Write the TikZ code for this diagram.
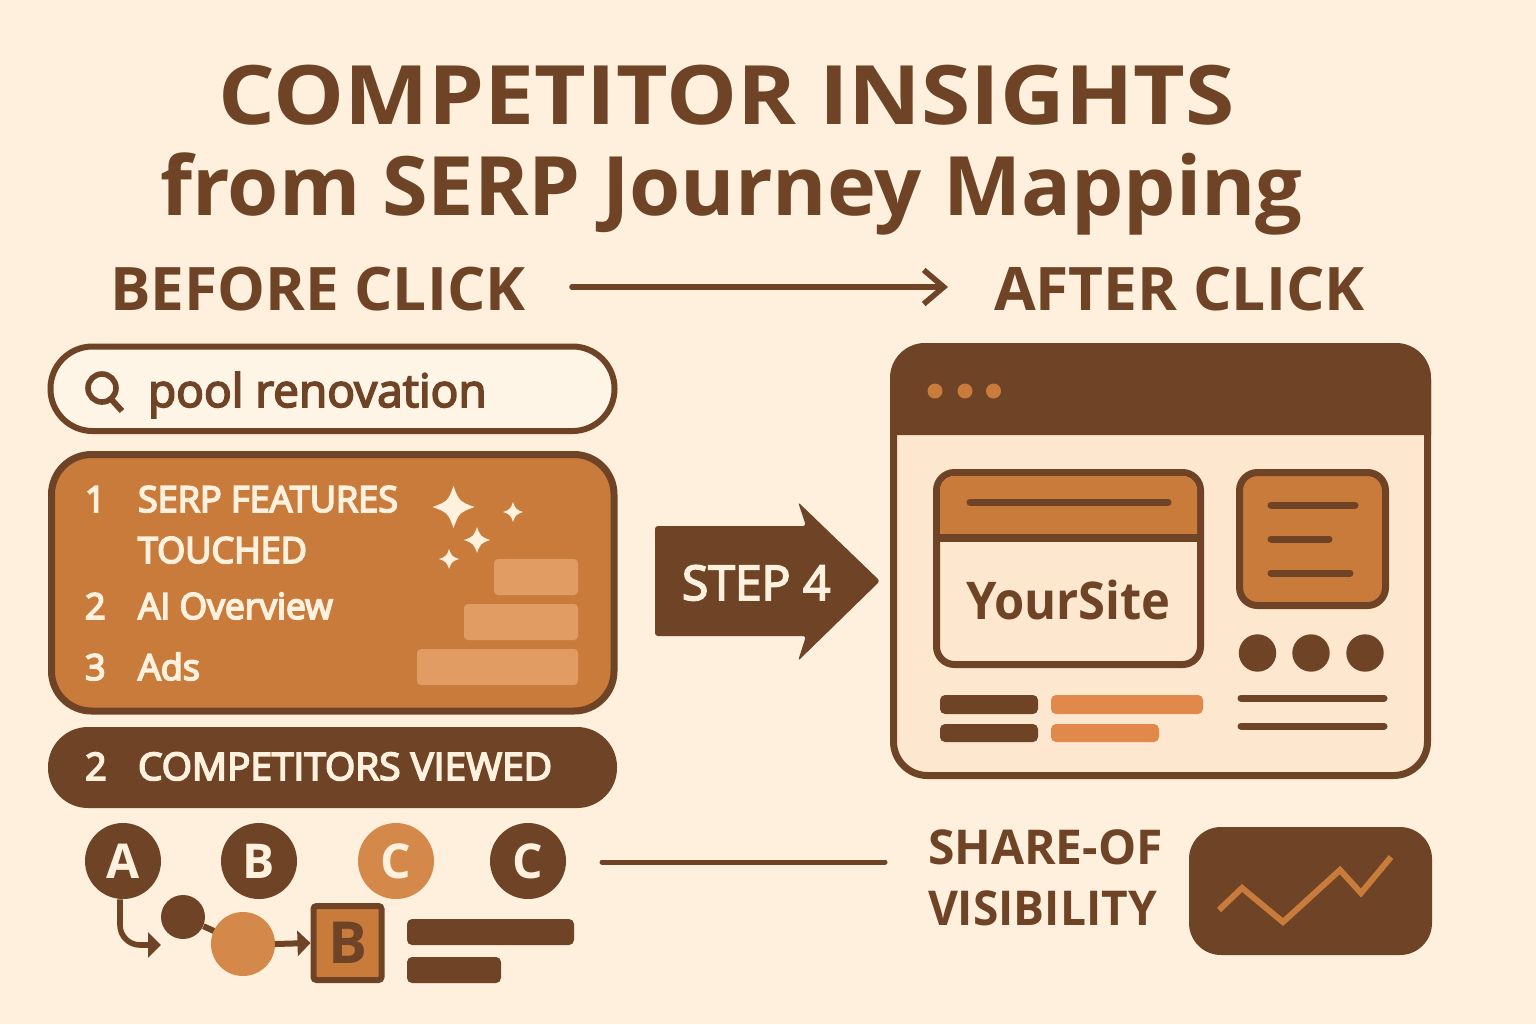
\documentclass[tikz,border=0pt]{standalone}
\usepackage{fontspec}
\setmainfont{Open Sans}
\newfontfamily\medf{Open Sans}
\newcommand{\semi}[1]{\special{pdf:code 2 Tr 0.85 w}#1\special{pdf:code 0 Tr 1 w}}
\usetikzlibrary{arrows.meta}
\definecolor{bgc}{HTML}{FEF0DC}
\definecolor{brn}{HTML}{6F4326}
\definecolor{org}{HTML}{C97B3C}
\definecolor{lorg}{HTML}{E09C62}
\definecolor{corg}{HTML}{D4894A}
\definecolor{barorg}{HTML}{E0894A}
\definecolor{pale}{HTML}{FDE8CF}
\definecolor{srch}{HTML}{FFF5E7}
\definecolor{cream}{HTML}{FFF1DD}
\tikzset{
  x=.5pt,y=-.5pt,
  txt/.style={inner sep=0pt,outer sep=0pt,anchor=base west,text=#1},
  bar/.style={fill=#1,rounded corners=2.5pt},
  rule/.style={draw=brn,line width=3.5pt,line cap=round},
  disc/.style={circle,inner sep=0pt,minimum size=#1*.5pt,text=cream,font=\bfseries\fontsize{24}{26}\selectfont},
  tip/.style={-{Triangle[length=6.5pt,width=12.5pt]}},
}
\newcommand{\spark}[3]{\fill[cream] (#1-#3,#2) .. controls (#1-#3*.3,#2-#3*.25) and (#1-#3*.25,#2-#3*.3) .. (#1,#2-#3)
  .. controls (#1+#3*.25,#2-#3*.3) and (#1+#3*.3,#2-#3*.25) .. (#1+#3,#2)
  .. controls (#1+#3*.3,#2+#3*.25) and (#1+#3*.25,#2+#3*.3) .. (#1,#2+#3)
  .. controls (#1-#3*.25,#2+#3*.3) and (#1-#3*.3,#2+#3*.25) .. cycle;}
\begin{document}
\begin{tikzpicture}
\useasboundingbox[fill=bgc] (0,0) rectangle (1536,1024);
% titles
\node[txt=brn,font=\bfseries\fontsize{41}{48}\selectfont\addfontfeature{FakeStretch=1.09}] (t1) at (218,124) {COMPETITOR INSIGHTS};
\node[txt=brn,font=\bfseries\fontsize{41}{48}\selectfont\addfontfeature{FakeStretch=1.01}] (t2) at (160,215) {from SERP Journey Mapping};
\node[txt=brn,font=\bfseries\fontsize{30}{36}\selectfont\addfontfeature{FakeStretch=1.005}] (before) at (110,310) {BEFORE CLICK};
\node[txt=brn,font=\bfseries\fontsize{30}{36}\selectfont\addfontfeature{FakeStretch=1.008}] (after) at (994,310) {AFTER CLICK};
\coordinate (hs) at (572,287);\coordinate (he) at (948,287);
\draw[draw=brn,line width=2.8pt,line cap=round,-{Straight Barb[length=10pt,width=17pt,line width=2.8pt]}] (hs) -- (he);
% search box
\draw[draw=brn,line width=3pt,fill=srch,rounded corners=21pt] (50.5,346.5) rectangle (614.5,431);
\draw[draw=brn,line width=2.8pt] (102,388) circle[radius=14];
\draw[draw=brn,line width=3pt] (111,399) -- (122,411);
\node[txt=brn,font=\medf\fontsize{23}{28}\selectfont] (q) at (148,407) {\semi{pool renovation}};
% serp panel
\draw[draw=brn,line width=3.5pt,fill=org,rounded corners=20pt] (51.5,454.5) rectangle (614,711);
\fill[lorg,rounded corners=2pt] (494,559) rectangle (578,595);
\fill[lorg,rounded corners=2pt] (464,604) rectangle (578,640);
\fill[lorg,rounded corners=2pt] (417,649) rectangle (578,685);
\spark{453.5}{507}{21}
\spark{513}{512}{10}
\spark{477}{540}{13}
\spark{449}{559}{10}
\node[txt=cream,font=\medf\fontsize{18}{22}\selectfont] (n1) at (85,512) {\semi{1}};
\node[txt=cream,font=\medf\fontsize{18}{22}\selectfont] (s1) at (138,512) {\semi{SERP FEATURES}};
\node[txt=cream,font=\medf\fontsize{18}{22}\selectfont] (s2) at (138,563) {\semi{TOUCHED}};
\node[txt=cream,font=\medf\fontsize{18}{22}\selectfont] (n2) at (85,619) {\semi{2}};
\node[txt=cream,font=\medf\fontsize{18}{22}\selectfont\addfontfeature{FakeStretch=.985}] (s3) at (138,619) {\semi{AI Overview}};
\node[txt=cream,font=\medf\fontsize{18}{22}\selectfont] (n3) at (85,680) {\semi{3}};
\node[txt=cream,font=\medf\fontsize{18}{22}\selectfont] (s4) at (138,680) {\semi{Ads}};
% competitors pill
\fill[brn,rounded corners=20pt] (48,727) rectangle (617,808);
\node[txt=cream,font=\medf\fontsize{19}{22}\selectfont] (n4) at (85,780) {\semi{2}};
\node[txt=cream,font=\medf\fontsize{19}{22}\selectfont\addfontfeature{FakeStretch=1.022}] (s5) at (138,780) {\semi{COMPETITORS VIEWED}};
% circles
\node[disc=76,fill=brn] (a) at (123,861) {A};
\node[disc=76,fill=brn] (b) at (259,861) {B};
\node[disc=76,fill=corg] (c1) at (396,861) {C};
\node[disc=76,fill=brn] (c2) at (528,861) {C};
\node[disc=44,fill=brn] (dot) at (183,917) {};
\coordinate (bigc) at (243,944);
\draw[draw=brn,line width=3pt] (dot) -- (bigc);
\node[disc=64,fill=corg] (big) at (bigc) {};
\node[rectangle,draw=brn,line width=3pt,fill=org,minimum width=34pt,minimum height=37pt,inner sep=0pt,text=brn,font=\bfseries\fontsize{29}{30}\selectfont,rounded corners=1.5pt] (boxb) at (347.5,943) {B};
\coordinate (t1e) at (161,945);
\draw[draw=brn,line width=2.8pt,rounded corners=10pt,tip] (a.south) ++(-3,0) |- (t1e);
\draw[draw=brn,line width=3pt,tip] (big) ++(32,0) -- (boxb.west);
\fill[bar=brn] (407,919) rectangle (574,945);
\fill[bar=brn] (407,957) rectangle (501,983);
% step arrow
\fill[brn,rounded corners=1.5pt] (655,526) -- (806,526) -- (798,502) -- (880,581) -- (798,661) -- (806,636) -- (655,636) -- cycle;
\node[txt=cream,font=\medf\fontsize{24}{28}\selectfont] (stepl) at (682,600) {\semi{STEP 4}};
% browser window
\draw[draw=brn,line width=3.5pt,fill=pale,rounded corners=17pt] (893.5,346.5) rectangle (1427.5,775.5);
\fill[brn] (890,435) [rounded corners=17.5pt] -- (890,343) -- (1431,343) [sharp corners] -- (1431,435) -- cycle;
\fill[org] (935,391) circle[radius=7.5];
\fill[org] (965,391) circle[radius=7.5];
\fill[org] (993.5,391) circle[radius=7.5];
% main card
\draw[draw=brn,line width=3.5pt,fill=pale,rounded corners=9pt] (936.5,472.5) rectangle (1200.5,664.5);
\fill[org] (940,534) [rounded corners=7pt] -- (940,476) -- (1197,476) [sharp corners] -- (1197,534) -- cycle;
\fill[brn] (936.5,534) rectangle (1200.5,542);
\draw[rule] (970,502) -- (1168,502);
\node[txt=brn,font=\bfseries\fontsize{26}{30}\selectfont\addfontfeature{FakeStretch=.94}] (ys) at (966,619) {YourSite};
% side card
\draw[draw=brn,line width=3.5pt,fill=org,rounded corners=9pt] (1239.5,472.5) rectangle (1385.5,605.5);
\draw[rule] (1271,505) -- (1355,505);
\draw[rule] (1271,539) -- (1329,539);
\draw[rule] (1271,573) -- (1350,573);
\fill[brn] (1257.5,653) circle[radius=18.7];
\fill[brn] (1311,653) circle[radius=18.7];
\fill[brn] (1365,653) circle[radius=18.7];
\draw[rule] (1241,698) -- (1384,698);
\draw[rule] (1241,726) -- (1384,726);
\fill[bar=brn] (940,695) rectangle (1038,714);
\fill[bar=brn] (940,724) rectangle (1038,742);
\fill[bar=barorg] (1051,695) rectangle (1203,714);
\fill[bar=barorg] (1051,724) rectangle (1159,742);
% share of visibility
\coordinate (ls) at (602,862);\coordinate (le) at (885,862);
\draw[draw=brn,line width=2.5pt,line cap=round] (ls) -- (le);
\node[txt=brn,font=\bfseries\fontsize{24}{28}\selectfont] (sv1) at (928,864) {SHARE-OF};
\node[txt=brn,font=\bfseries\fontsize{24}{28}\selectfont\addfontfeature{FakeStretch=.96}] (sv2) at (928,925) {VISIBILITY};
\fill[brn,rounded corners=16pt] (1189,827) rectangle (1432,955);
\draw[draw=org,line width=3pt,miter limit=10] (1219,910) -- (1242,888) -- (1283,922) -- (1340,870) -- (1361,893) -- (1391,857);
\end{tikzpicture}
\end{document}
